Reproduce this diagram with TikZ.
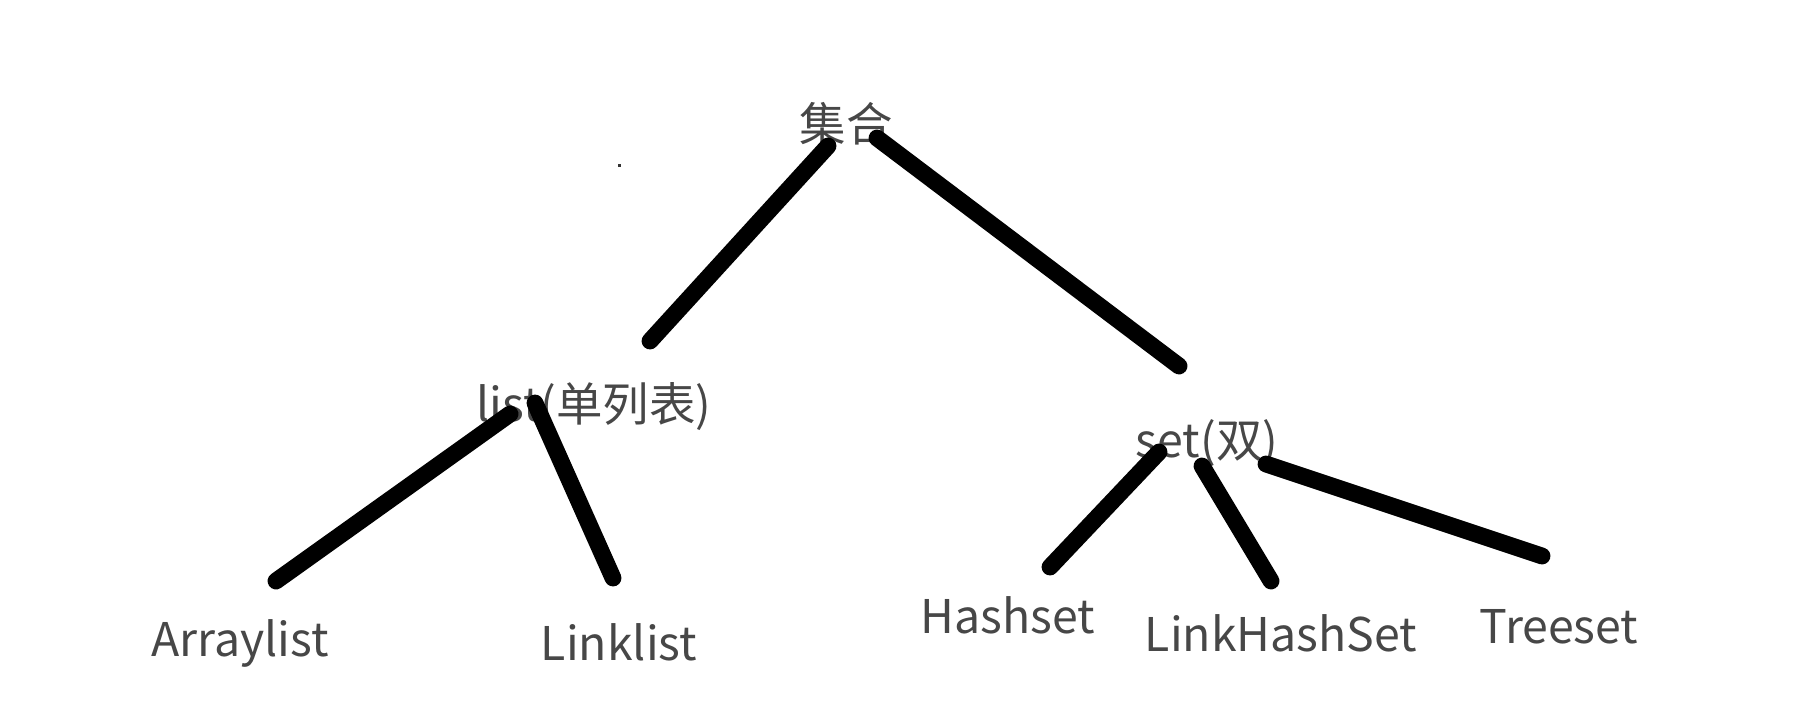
\documentclass[tikz,border=0pt]{standalone}
\usepackage{fontspec}
\setmainfont{Noto Sans CJK SC}
\begin{document}
\begin{tikzpicture}[x=0.01cm,y=-0.01cm,
  lbl/.style={inner sep=0pt,text=black!72,font=\fontsize{13.2}{15}\selectfont},
  edge/.style={line width=4.8pt,line cap=round,black}]
\useasboundingbox[fill=white] (0,0) rectangle (1804,721);
\node[lbl] (root) at (846,124) {集合};
\node[lbl] (list) at (594,407) {list(单列表)};
\node[lbl] (set) at (1207,443) {set(双)};
\node[lbl] (arr) at (240,643) {Arraylist};
\node[lbl] (lnk) at (619,642) {Linklist};
\node[lbl] (hs) at (1008,615) {Hashset};
\node[lbl] (lhs) at (1281,633) {LinkHashSet};
\node[lbl] (ts) at (1559,627) {Treeset};
\coordinate (r1) at (828,146); \coordinate (l0) at (650,341);
\coordinate (r2) at (877,138); \coordinate (s0) at (1179,366);
\coordinate (l1) at (510,414); \coordinate (a0) at (276,581);
\coordinate (l2) at (535,403); \coordinate (k0) at (613,578);
\coordinate (s1) at (1159,452); \coordinate (h0) at (1050,567);
\coordinate (s2) at (1202,466); \coordinate (m0) at (1271,581);
\coordinate (s3) at (1266,464); \coordinate (t0) at (1542,556);
\draw[edge] (r1) -- (l0);
\draw[edge] (r2) -- (s0);
\draw[edge] (l1) -- (a0);
\draw[edge] (l2) -- (k0);
\draw[edge] (s1) -- (h0);
\draw[edge] (s2) -- (m0);
\draw[edge] (s3) -- (t0);
\fill[black!80] (617.5,163.5) rectangle (620.5,166.5);
\end{tikzpicture}
\end{document}
